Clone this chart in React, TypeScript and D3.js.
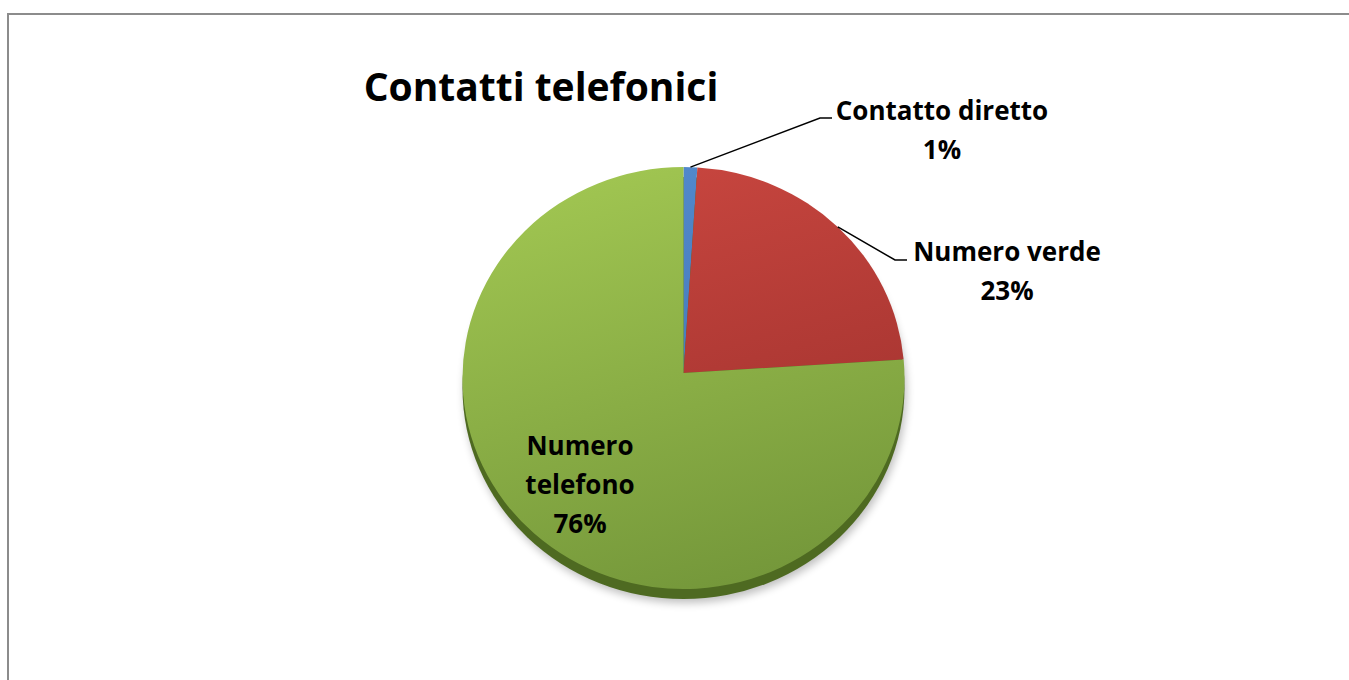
import React from 'react';
import * as d3 from 'd3';

const title = 'Contatti telefonici';
const categories = ['Contatto diretto', 'Numero verde', 'Numero telefono'];
const values = [1.0, 22.6, 76.4];
const colorsTop = ['#5289cc', '#c8463f', '#a0c551'];
const colorsBottom = ['#3d6fae', '#9a2e2b', '#74973a'];

export default function App() {
  const W = 1349, H = 680;
  const cx = 683.5, cy = 378, rx = 221, ry = 211, apexY = 373, depth = 10;
  const font = '"Open Sans", Lato, sans-serif';
  const labelSize = 26;

  const arcs = d3.pie<number>().sort(null).value((d) => d)(values);
  const total = d3.sum(values);
  const pct = d3.format('.0%');

  const pt = (a: number, f = 1): [number, number] => [cx + rx * f * Math.sin(a), cy - ry * f * Math.cos(a)];
  const slicePath = (a0: number, a1: number) => {
    const [x0, y0] = pt(a0);
    const [x1, y1] = pt(a1);
    const large = a1 - a0 > Math.PI ? 1 : 0;
    return `M${cx},${apexY}L${x0},${y0}A${rx},${ry} 0 ${large} 1 ${x1},${y1}Z`;
  };

  const outside = [
    { i: 0, elbow: [820, 118], end: [832, 118], tx: 942, ty: 120 },
    { i: 1, elbow: [895, 260], end: [907, 260], tx: 1007, ty: 261 },
  ];
  const lineGap = 39;

  return (
    <svg width={W} height={H} style={{ position: 'absolute', left: 0, top: 0, background: '#fff' }}>
      <defs>
        {arcs.map((a, i) => (
          <linearGradient key={i} id={`g${i}`} gradientUnits="userSpaceOnUse" x1={cx - 60} y1={cy - ry} x2={cx + 60} y2={cy + ry}>
            <stop offset="0" stopColor={colorsTop[i]} />
            <stop offset="1" stopColor={colorsBottom[i]} />
          </linearGradient>
        ))}
        <filter id="blur" x="-20%" y="-20%" width="140%" height="140%">
          <feGaussianBlur stdDeviation="4" />
        </filter>
      </defs>
      <rect x={8} y={14} width={W + 20} height={H + 20} fill="#fff" stroke="#8c8c8c" strokeWidth={2} />

      <ellipse cx={cx + 2} cy={cy + depth + 4} rx={rx} ry={ry} fill="#000" opacity={0.25} filter="url(#blur)" />
      <ellipse cx={cx} cy={cy + depth} rx={rx} ry={ry} fill="#4e6a21" />

      {arcs.map((a, i) => (
        <path key={i} d={slicePath(a.startAngle, a.endAngle)} fill={`url(#g${i})`} />
      ))}

      <text x={541} y={101} textAnchor="middle" fontFamily={font} fontWeight="bold" fontSize={39} fill="#000">
        {title}
      </text>

      {outside.map((o) => {
        const a = arcs[o.i];
        const mid = (a.startAngle + a.endAngle) / 2;
        const [sx, sy] = pt(mid);
        return (
          <g key={o.i}>
            <polyline points={`${sx},${sy} ${o.elbow[0]},${o.elbow[1]} ${o.end[0]},${o.end[1]}`} fill="none" stroke="#000" strokeWidth={1.5} />
            <text x={o.tx} y={o.ty} textAnchor="middle" fontFamily={font} fontWeight="bold" fontSize={labelSize} fill="#000">
              {categories[o.i]}
            </text>
            <text x={o.tx} y={o.ty + lineGap} textAnchor="middle" fontFamily={font} fontWeight="bold" fontSize={labelSize} fill="#000">
              {pct(values[o.i] / total)}
            </text>
          </g>
        );
      })}

      <g fontFamily={font} fontWeight="bold" fontSize={labelSize} fill="#000" textAnchor="middle">
        {categories[2].split(' ').map((w, k) => (
          <text key={k} x={580} y={455 + k * lineGap}>{w}</text>
        ))}
        <text x={580} y={455 + 2 * lineGap}>{pct(values[2] / total)}</text>
      </g>
    </svg>
  );
}
